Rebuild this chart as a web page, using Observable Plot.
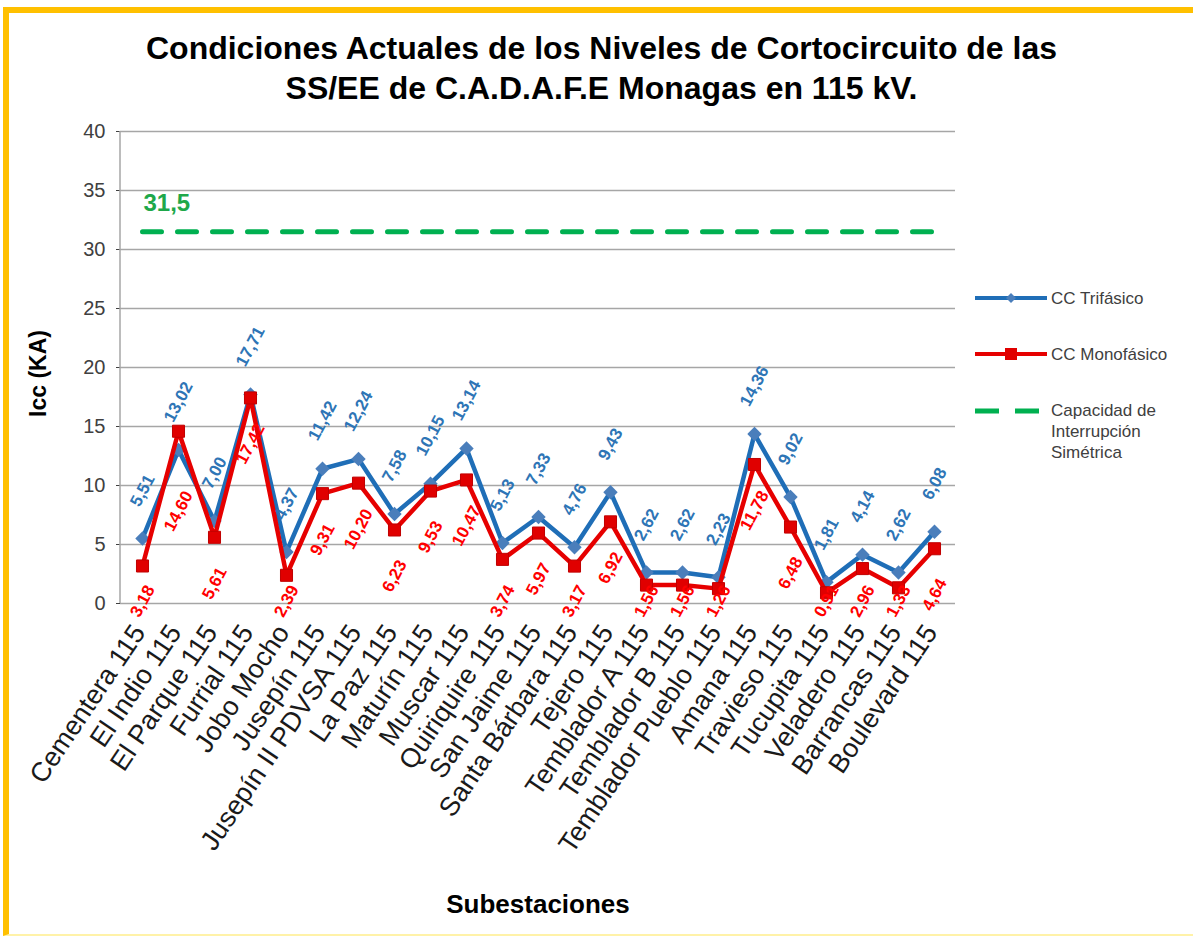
<!DOCTYPE html>
<html>
<head>
<meta charset="utf-8">
<script src="https://cdn.jsdelivr.net/npm/d3@7"></script>
<script src="https://cdn.jsdelivr.net/npm/@observablehq/plot@0.6"></script>
<style>
  body { margin: 0; background: #ffffff; font-family: "Liberation Sans", Arial, sans-serif; }
  #wrap { position: relative; width: 1193px; height: 937px; overflow: hidden; background: #ffffff; }
  #border { position: absolute; left: 3px; top: 7px; width: 1200px; height: 929px; border-top: 6px solid #ffc000; border-left: 6px solid #ffc000; border-bottom: 2px solid #fff2a8; box-sizing: border-box; }
  #title { position: absolute; left: 5px; top: 28px; width: 1193px; text-align: center; font-weight: bold; font-size: 32px; line-height: 40px; color: #000; }
  #chart { position: absolute; left: 0; top: 110px; }
  .leg { position: absolute; font-size: 17px; color: #404040; line-height: 21px; }
  .sw { position: absolute; }
</style>
</head>
<body>
<div id="wrap">
  <div id="border"></div>
  <div id="title">Condiciones Actuales de los Niveles de Cortocircuito de las<br>SS/EE de C.A.D.A.F.E Monagas en 115 kV.</div>
  <div id="chart"></div>
  <svg class="sw" style="left:973px;top:288px" width="76" height="20"><line x1="2" x2="74" y1="10" y2="10" stroke="#1f6eb7" stroke-width="4"/><path d="M38,5 L43,10 L38,15 L33,10 Z" fill="#4a7ebb"/></svg>
  <div class="leg" style="left:1051px;top:288px">CC Trifásico</div>
  <svg class="sw" style="left:973px;top:344px" width="76" height="20"><line x1="2" x2="74" y1="10" y2="10" stroke="#e60000" stroke-width="4"/><rect x="32" y="4" width="12" height="12" fill="#e00000"/></svg>
  <div class="leg" style="left:1051px;top:344px">CC Monofásico</div>
  <svg class="sw" style="left:973px;top:401px" width="76" height="20"><line x1="2" x2="74" y1="10" y2="10" stroke="#00b050" stroke-width="5" stroke-dasharray="24,16"/></svg>
  <div class="leg" style="left:1051px;top:400px">Capacidad de<br>Interrupción<br>Simétrica</div>
</div>
<script>
const categories = ["Cementera 115","El Indio 115","El Parque 115","Furrial 115","Jobo Mocho","Jusepín 115","Jusepín II PDVSA 115","La Paz 115","Maturín 115","Muscar 115","Quiriquire 115","San Jaime 115","Santa Bárbara 115","Tejero 115","Temblador A 115","Temblador B 115","Temblador Pueblo 115","Amana 115","Travieso 115","Tucupita 115","Veladero 115","Barrancas 115","Boulevard 115"];
const trifasico = [5.51,13.02,7.00,17.71,4.37,11.42,12.24,7.58,10.15,13.14,5.13,7.33,4.76,9.43,2.62,2.62,2.23,14.36,9.02,1.81,4.14,2.62,6.08];
const monofasico = [3.18,14.60,5.61,17.42,2.39,9.31,10.20,6.23,9.53,10.47,3.74,5.97,3.17,6.92,1.56,1.56,1.26,11.78,6.48,0.91,2.96,1.33,4.64];
const capacidad = 31.5;
const yTicks = [0,5,10,15,20,25,30,35,40];

const rows = categories.map((c, i) => ({cat: c, tri: trifasico[i], mono: monofasico[i], cap: capacidad}));
const fmt = v => v.toFixed(2).replace(".", ",");
const fmt1 = v => v.toFixed(1).replace(".", ",");
const font = "Liberation Sans, Arial, sans-serif";

const W = 1193, H = 827, ML = 120, MR = 238, MT = 21, MB = 334;
const redAbove = rows.filter(d => d.mono > d.tri);
const redBelow = rows.filter(d => d.mono <= d.tri);

const chart = Plot.plot({
  width: W, height: H,
  marginLeft: ML, marginRight: MR, marginTop: MT, marginBottom: MB,
  style: {fontFamily: font, fontSize: "20px", color: "#404040", background: "transparent"},
  x: {type: "point", domain: categories, padding: 0.5, axis: null},
  y: {domain: [0, 40], ticks: yTicks, tickSize: 4, tickPadding: 11, label: null, tickFormat: d => String(d)},
  marks: [
    Plot.ruleY(yTicks, {stroke: "#a6a6a6", strokeWidth: 1.5}),
    Plot.line(rows, {x: "cat", y: "cap", stroke: "#00b050", strokeWidth: 5, strokeDasharray: "19,16"}),
    Plot.line(rows, {x: "cat", y: "tri", stroke: "#1f6eb7", strokeWidth: 4.5}),
    Plot.dot(rows, {x: "cat", y: "tri", symbol: "diamond2", r: 6.5, fill: "#4a7ebb", stroke: "none"}),
    Plot.line(rows, {x: "cat", y: "mono", stroke: "#e60000", strokeWidth: 4.5}),
    Plot.dot(rows, {x: "cat", y: "mono", symbol: "square", r: 6.8, fill: "#e00000", stroke: "#c00000", strokeWidth: 1}),
    Plot.text(rows, {x: "cat", y: "tri", text: d => fmt(d.tri), rotate: -62, dy: -48, fill: "#2e75b6", fontSize: 17, fontWeight: "bold", fontFamily: font}),
    Plot.text(redBelow, {x: "cat", y: d => Math.max(d.mono, 4.1), text: d => fmt(d.mono), rotate: -62, dy: 46, fill: "#ff0000", fontSize: 17, fontWeight: "bold", fontFamily: font}),
    Plot.text(redAbove, {x: "cat", y: "mono", text: d => fmt(d.mono), rotate: -62, dy: 80, fill: "#ff0000", fontSize: 17, fontWeight: "bold", fontFamily: font}),
    Plot.text([rows[0]], {x: "cat", y: "cap", text: d => fmt1(d.cap), textAnchor: "start", dx: 1, dy: -28, fill: "#1ea84a", fontSize: 24, fontWeight: "bold", fontFamily: font}),
    Plot.text(categories, {x: d => d, frameAnchor: "bottom", text: d => d, rotate: -56, textAnchor: "end", dx: 4, dy: 29, fill: "#1a1a1a", fontSize: 27, fontFamily: font}),
    Plot.text(["Icc (KA)"], {frameAnchor: "left", text: d => d, rotate: -90, textAnchor: "middle", dx: -82, dy: 6, fill: "#000", fontSize: 23, fontWeight: "bold", fontFamily: font}),
    Plot.text(["Subestaciones"], {frameAnchor: "bottom", text: d => d, textAnchor: "middle", dy: 309, fill: "#000", fontSize: 26, fontWeight: "bold", fontFamily: font})
  ]
});

d3.select(chart).append("line")
  .attr("x1", ML).attr("x2", ML)
  .attr("y1", MT).attr("y2", H - MB)
  .attr("stroke", "#a6a6a6").attr("stroke-width", 1.5);

document.getElementById("chart").appendChild(chart);
</script>
</body>
</html>
